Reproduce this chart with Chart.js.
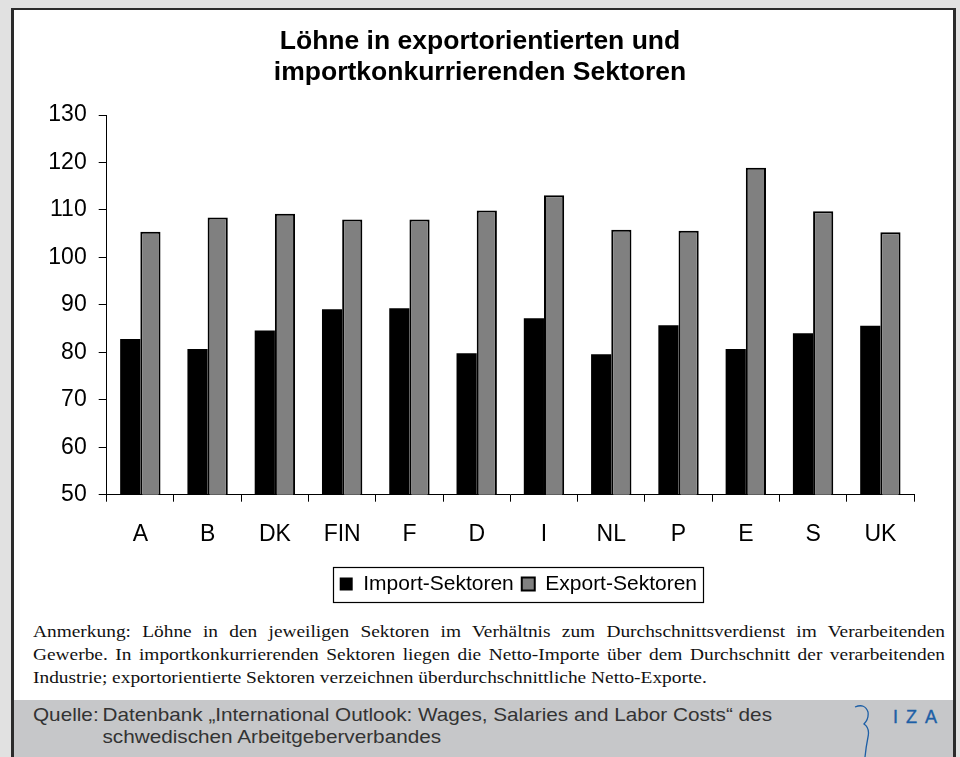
<!DOCTYPE html>
<html>
<head>
<meta charset="utf-8">
<script src="https://cdn.jsdelivr.net/npm/chart.js@4/dist/chart.umd.min.js"></script>
<style>
  html, body { margin:0; padding:0; }
  body { width:960px; height:757px; background:#e1e1e1; position:relative; overflow:hidden; }
  #frame { position:absolute; left:11px; top:8px; width:939px; height:760px;
           border-left:3px solid #2b2b2b; border-right:3px solid #2b2b2b; border-top:2px solid #2b2b2b;
           background:#ffffff; }
  #band { position:absolute; left:14px; top:700px; width:939px; height:57px; background:#c6c7c9; }
  #chartWrap { position:absolute; left:0; top:0; width:960px; height:620px; }
  #note { position:absolute; left:33px; top:620px; width:800px;
          transform-origin:0 0; transform:scaleX(1.14);
          font-family:"Liberation Serif","Times New Roman",serif; font-size:17px; line-height:23px;
          text-align:justify; color:#111; }
  #source { position:absolute; left:33px; top:704px; width:700px;
            transform-origin:0 0; transform:scaleX(1.12);
            font-family:"Liberation Sans",Arial,sans-serif; font-size:18.5px; line-height:22px; color:#333;
            display:flex; }
  #source .lab { width:62px; flex:none; }
  #iza { position:absolute; left:893px; top:707px; font-family:"Liberation Sans",Arial,sans-serif;
         font-size:18px; color:#1d5fa6; letter-spacing:8px; -webkit-text-stroke:0.4px #1d5fa6; }
  #izaCurve { position:absolute; left:850px; top:700px; }
</style>
</head>
<body>
<div id="frame"></div>
<div id="band"></div>
<div id="chartWrap"><canvas id="c" width="960" height="620"></canvas></div>
<div id="note">Anmerkung: Löhne in den jeweiligen Sektoren im Verhältnis zum Durchschnittsverdienst im Verarbeitenden Gewerbe. In importkonkurrierenden Sektoren liegen die Netto-Importe über dem Durchschnitt der verarbeitenden Industrie; exportorientierte Sektoren verzeichnen überdurchschnittliche Netto-Exporte.</div>
<div id="source"><span class="lab">Quelle:</span><span>Datenbank „International Outlook: Wages, Salaries and Labor Costs“ des<br>schwedischen Arbeitgeberverbandes</span></div>
<svg id="izaCurve" width="30" height="57" viewBox="0 0 30 57"><path d="M5 7 Q15 3 18 12 Q19 19 14 24 Q20 28 18 37 Q16 47 15 57" fill="none" stroke="#1d5fa6" stroke-width="1.3"/></svg>
<div id="iza">IZA</div>
<script>
const categories = ["A", "B", "DK", "FIN", "F", "D", "I", "NL", "P", "E", "S", "UK"];
const importValues = [82.8, 80.7, 84.6, 89.1, 89.3, 79.8, 87.2, 79.6, 85.7, 80.7, 84.0, 85.6];
const exportValues = [105.4, 108.4, 109.2, 108.0, 108.0, 109.9, 113.1, 105.8, 105.6, 118.9, 109.7, 105.3];
const seriesNames = ["Import-Sektoren", "Export-Sektoren"];
const yTicks = { min: 50, max: 130, step: 10 };
const titleLines = ["Löhne in exportorientierten und", "importkonkurrierenden Sektoren"];

const FONT = '"Liberation Sans", Arial, sans-serif';

const layoutTweakPlugin = {
  id: 'layoutTweak',
  afterLayout(chart) {
    const tb = chart.titleBlock;
    if (tb) { tb.left += 23; tb.right += 23; }
    const lg = chart.legend;
    if (lg && lg.legendHitBoxes) {
      const dx = 8;
      lg.left += dx; lg.right += dx;
      lg.legendHitBoxes.forEach(h => { h.left += dx; });
    }
  },
  afterDraw(chart) {
    const lg = chart.legend;
    if (!lg || !lg.legendHitBoxes || !lg.legendHitBoxes.length) return;
    const hb = lg.legendHitBoxes;
    let l = Infinity, r = -Infinity, t = Infinity, b = -Infinity;
    hb.forEach(h => { l = Math.min(l, h.left); r = Math.max(r, h.left + h.width);
                      t = Math.min(t, h.top); b = Math.max(b, h.top + h.height); });
    const ctx = chart.ctx;
    ctx.save();
    ctx.strokeStyle = '#000';
    ctx.lineWidth = 1.2;
    ctx.strokeRect(Math.round(l - 7) + 0.5, Math.round(t - 7) + 0.5, Math.round(r - l + 13), Math.round(b - t + 14));
    ctx.restore();
  }
};

new Chart(document.getElementById('c'), {
  type: 'bar',
  data: {
    labels: categories,
    datasets: [
      { label: seriesNames[0], data: importValues, backgroundColor: '#000000', borderColor: '#000000', borderWidth: 0,
        categoryPercentage: 0.6, barPercentage: 1.0 },
      { label: seriesNames[1], data: exportValues, backgroundColor: '#808080', borderColor: '#000000', borderWidth: 2,
        categoryPercentage: 0.6, barPercentage: 1.0 }
    ]
  },
  options: {
    responsive: false,
    animation: false,
    devicePixelRatio: 1,
    layout: { padding: { left: 0, right: 46, top: 0, bottom: 15.5 } },
    plugins: {
      title: {
        display: true,
        text: titleLines,
        color: '#000',
        font: { family: FONT, size: 26.5, weight: 'bold', lineHeight: 1.17 },
        padding: { top: 26.5, bottom: 26.5 }
      },
      legend: {
        display: true,
        position: 'bottom',
        fullSize: false,
        labels: {
          color: '#000',
          font: { family: FONT, size: 21 },
          boxWidth: 13,
          boxHeight: 13,
          padding: 8
        }
      },
      tooltip: { enabled: false }
    },
    scales: {
      x: {
        grid: { display: true, drawOnChartArea: false, drawTicks: true, tickLength: 7, color: '#000', offset: true },
        border: { display: true, color: '#000', width: 1 },
        ticks: { color: '#000', font: { family: FONT, size: 23 }, padding: 19.5, autoSkip: false, maxRotation: 0 },
        afterFit(scale) { scale.height = 70.8; }
      },
      y: {
        min: yTicks.min,
        max: yTicks.max,
        grid: { display: true, drawOnChartArea: false, drawTicks: true, tickLength: 8, color: '#000' },
        border: { display: true, color: '#000', width: 1 },
        ticks: { stepSize: yTicks.step, color: '#000', font: { family: FONT, size: 23 }, padding: 12 },
        afterFit(scale) { scale.width = 106.7; }
      }
    }
  },
  plugins: [layoutTweakPlugin]
});
</script>
</body>
</html>
